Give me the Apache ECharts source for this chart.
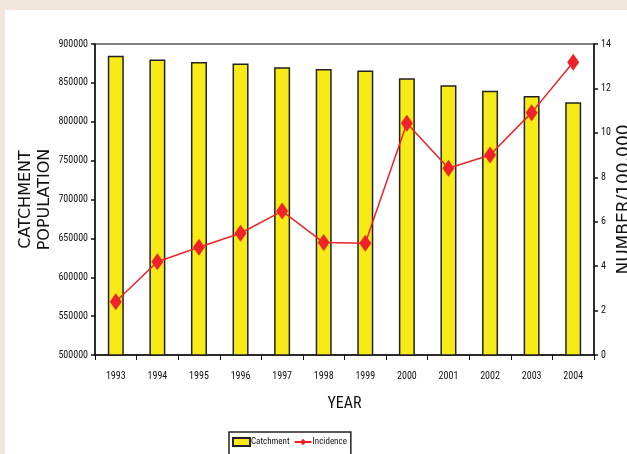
<!DOCTYPE html>
<html><head><meta charset="utf-8">
<script src="https://cdn.jsdelivr.net/npm/echarts@6/dist/echarts.min.js"></script>
<style>
html,body{margin:0;padding:0;background:#efe7dc;}
#panel{position:absolute;left:5px;top:10px;width:622px;height:444px;background:#fff;}
#c{position:absolute;left:0;top:0;width:627px;height:454px;}
</style></head>
<body><div id="panel"></div><div id="c"></div>
<script>
const years = ['1993','1994','1995','1996','1997','1998','1999','2000','2001','2002','2003','2004'];
const catchment = [885000,880000,877000,875000,870000,868000,866000,856000,847000,840000,833000,825000];
const incidence = [2.40,4.20,4.85,5.48,6.48,5.06,5.03,10.43,8.41,9.00,10.91,13.18];

const small = '"Liberation Sans Narrow","Roboto Condensed","DejaVu Sans Condensed","Liberation Sans",sans-serif';
const chart = echarts.init(document.getElementById('c'), null, {renderer:'canvas'});
chart.setOption({
  animation:false,
  backgroundColor:'transparent',
  grid:{left:95,right:33,top:44,bottom:99,containLabel:false,outerBoundsMode:'none',
        show:true,borderColor:'#555',borderWidth:1.5,backgroundColor:'transparent'},
  legend:{
    top:432, left:229,
    data:[{name:'Catchment',icon:'rect'},{name:'Incidence'}],
    borderColor:'#222', borderWidth:1.5, padding:[5,4,8,3],
    itemGap:4, itemWidth:17, itemHeight:8,
    textStyle:{fontFamily:small,fontSize:9,color:'#111',padding:[0,0,0,-4]}
  },
  xAxis:{
    type:'category', data:years,
    name:'YEAR', nameLocation:'middle', nameGap:41, nameMoveOverlap:false,
    nameTextStyle:{fontFamily:small,fontSize:16,color:'#111'},
    axisLine:{lineStyle:{color:'#111',width:1.5}},
    axisTick:{show:true,length:5,lineStyle:{color:'#111'}},
    axisLabel:{fontFamily:small,fontSize:10,color:'#111',margin:16}
  },
  yAxis:[{
    type:'value', min:500000, max:900000, interval:50000,
    name:'CATCHMENT\nPOPULATION', nameLocation:'middle', nameGap:41, nameRotate:90, nameMoveOverlap:false,
    nameTextStyle:{fontFamily:'"DejaVu Sans",sans-serif',fontSize:16,color:'#111',lineHeight:19},
    axisLine:{show:true,lineStyle:{color:'#111',width:1.5}},
    axisTick:{show:true,length:4,lineStyle:{color:'#111',width:1.5}},
    splitLine:{show:false},
    axisLabel:{fontFamily:small,fontSize:10,color:'#111',margin:7,formatter:v=>String(v)}
  },{
    type:'value', min:0, max:14, interval:2,
    name:'NUMBER/100,000', nameLocation:'middle', nameGap:22, nameRotate:90, nameMoveOverlap:false,
    nameTextStyle:{fontFamily:'"DejaVu Sans",sans-serif',fontSize:17,color:'#111'},
    axisLine:{show:true,lineStyle:{color:'#111',width:1.5}},
    axisTick:{show:true,length:4,lineStyle:{color:'#111',width:1.5}},
    splitLine:{show:false},
    axisLabel:{fontFamily:small,fontSize:10,color:'#111',margin:7}
  }],
  series:[{
    name:'Catchment', type:'bar', data:catchment, barWidth:16, yAxisIndex:0,
    itemStyle:{color:'#f7ea16',borderColor:'#222',borderWidth:1.5}
  },{
    name:'Incidence', type:'line', data:incidence, yAxisIndex:1,
    symbol:'diamond', symbolSize:[12,17],
    lineStyle:{color:'#ee2228',width:1.5},
    itemStyle:{color:'#ee2228'}
  }]
});
</script></body></html>
